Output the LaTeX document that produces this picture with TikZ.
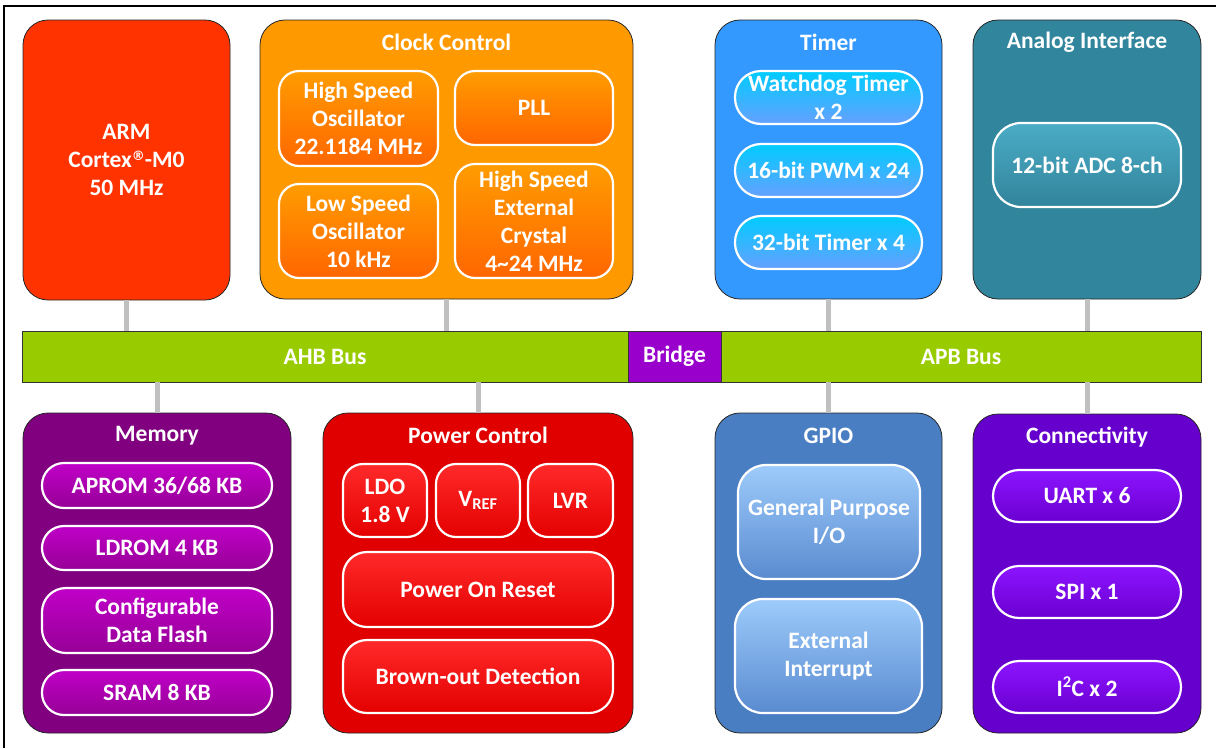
\documentclass[tikz,border=0pt]{standalone}
\usepackage{fontspec}
\setmainfont{Carlito}
\newfontfamily\regfont{DejaVu Sans}
\definecolor{armred}{HTML}{FF3300}
\definecolor{clockor}{HTML}{FF9900}
\definecolor{innorTop}{HTML}{FF9C00}
\definecolor{innorBot}{HTML}{FF6600}
\definecolor{timerbl}{HTML}{3399FF}
\definecolor{tiTop}{HTML}{00CCFF}
\definecolor{tiBot}{HTML}{66A0FF}
\definecolor{analogc}{HTML}{31859C}
\definecolor{anTop}{HTML}{4BACC6}
\definecolor{anBot}{HTML}{31849B}
\definecolor{busgreen}{HTML}{99CC00}
\definecolor{bridgec}{HTML}{9900CC}
\definecolor{memc}{HTML}{800080}
\definecolor{meTop}{HTML}{C000C8}
\definecolor{meBot}{HTML}{960096}
\definecolor{powc}{HTML}{E00000}
\definecolor{poTop}{HTML}{FF2A2A}
\definecolor{poBot}{HTML}{E40000}
\definecolor{gpioc}{HTML}{4A7EC2}
\definecolor{gpTop}{HTML}{9DCBFB}
\definecolor{gpBot}{HTML}{5A8BD0}
\definecolor{connc}{HTML}{6600CC}
\definecolor{coTop}{HTML}{8C14FF}
\definecolor{coBot}{HTML}{6A00D0}
\definecolor{conngray}{HTML}{C0C0C0}
\newcommand{\regmark}{{\regfont\bfseries\fontsize{13}{13}\selectfont\raisebox{7pt}{®}}}
\tikzset{
  txt/.style={text=white, font=\fontsize{23.5}{28}\selectfont\bfseries, align=center},
  outerbox/.style={txt, draw=black!85, line width=0.8pt, rounded corners=25pt, inner sep=0pt},
  innerbox/.style={txt, draw=white, line width=2.2pt, rounded corners=20pt, inner sep=0pt},
  pill/.style={innerbox, rounded corners=#1},
  busbox/.style={txt, draw=black!80, line width=0.9pt, inner sep=0pt},
  title/.style={txt, inner sep=0pt},
  linkline/.style={draw=conngray, line width=5pt},
}
\begin{document}
\begin{tikzpicture}[x=1pt,y=-1pt]
\useasboundingbox (0,0) rectangle (1216,748);
\fill[white] (0,0) rectangle (1216,748);
\draw[line width=2pt] (4,748) -- (4,6) -- (1216,6);

% top row outer blocks
\node[outerbox, fill=armred, minimum width=207pt, minimum height=280pt] (arm) at (126.5,160) {};
\node[txt] (armtxt) at (126.5,160) {ARM\\Cortex\regmark-M0\\50 MHz};
\node[outerbox, fill=clockor, minimum width=373pt, minimum height=279pt] (clock) at (446.5,159.5) {};
\node[title] (clockt) at (446.5,42) {Clock Control};
\node[outerbox, fill=timerbl, minimum width=227pt, minimum height=279pt] (timer) at (828.5,159.5) {};
\node[title] (timert) at (828.5,42) {Timer};
\node[outerbox, fill=analogc, minimum width=228pt, minimum height=279pt] (analog) at (1087,159.5) {};
\node[title] (analogt) at (1087,42) {Analog Interface};

% clock inner
\begin{scope}[every node/.append style={top color=innorTop, bottom color=innorBot}]
\node[innerbox, minimum width=159pt, minimum height=95pt] (hso) at (358.5,118.5) {High Speed\\Oscillator\\22.1184 MHz};
\node[innerbox, minimum width=158pt, minimum height=74pt] (pll) at (534,108) {PLL};
\node[innerbox, minimum width=159pt, minimum height=94pt] (lso) at (358.5,231) {Low Speed\\Oscillator\\10 kHz};
\node[innerbox, minimum width=158pt, minimum height=114pt] (hse) at (534,221) {High Speed\\External\\Crystal\\4\textasciitilde 24 MHz};
\end{scope}

% timer inner
\begin{scope}[every node/.append style={top color=tiTop, bottom color=tiBot}]
\node[pill=26pt, minimum width=187pt, minimum height=53pt] (wdt) at (828.5,97.5) {Watchdog Timer\\x 2};
\node[pill=26pt, minimum width=187pt, minimum height=53pt] (pwm) at (828.5,170.5) {16-bit PWM x 24};
\node[pill=26pt, minimum width=187pt, minimum height=53pt] (tmr) at (828.5,242.5) {32-bit Timer x 4};
\end{scope}

% analog inner
\node[innerbox, rounded corners=28pt, top color=anTop, bottom color=anBot, minimum width=188pt, minimum height=84pt] (adc) at (1087,165) {12-bit ADC 8-ch};

% bus
\node[busbox, fill=busgreen, minimum width=606pt, minimum height=51pt] (ahb) at (325,356.5) {AHB Bus};
\node[busbox, fill=bridgec, minimum width=93pt, minimum height=51pt] (bridge) at (674.5,356.5) {Bridge};
\node[busbox, fill=busgreen, minimum width=480pt, minimum height=51pt] (apb) at (961,356.5) {APB Bus};

% bottom row outer blocks
\node[outerbox, fill=memc, minimum width=268pt, minimum height=320pt] (mem) at (157,573) {};
\node[title] (memt) at (157,436) {Memory};
\node[outerbox, fill=powc, minimum width=310pt, minimum height=320pt] (pow) at (478,573) {};
\node[title] (powt) at (478,435) {Power Control};
\node[outerbox, fill=gpioc, minimum width=227pt, minimum height=320pt] (gpio) at (828.5,573) {};
\node[title] (gpiot) at (828.5,436) {GPIO};
\node[outerbox, fill=connc, minimum width=228pt, minimum height=319pt] (conn) at (1087,573.5) {};
\node[title] (connt) at (1087,437) {Connectivity};

% memory inner
\begin{scope}[every node/.append style={top color=meTop, bottom color=meBot}]
\node[pill=22pt, minimum width=230pt, minimum height=45pt] (aprom) at (157,485.5) {APROM 36/68 KB};
\node[pill=22pt, minimum width=230pt, minimum height=44pt] (ldrom) at (157,548) {LDROM 4 KB};
\node[innerbox, rounded corners=24pt, minimum width=230pt, minimum height=65pt] (cdf) at (157,620.5) {Configurable\\Data Flash};
\node[pill=22pt, minimum width=230pt, minimum height=45pt] (sram) at (157,692.5) {SRAM 8 KB};
\end{scope}

% power inner
\begin{scope}[every node/.append style={top color=poTop, bottom color=poBot}]
\node[innerbox, minimum width=84pt, minimum height=73pt] (ldo) at (385,500.5) {LDO\\1.8 V};
\node[innerbox, minimum width=84pt, minimum height=73pt] (vref) at (478,500.5) {V\textsubscript{REF}};
\node[innerbox, minimum width=85pt, minimum height=73pt] (lvr) at (570.5,500.5) {LVR};
\node[innerbox, rounded corners=24pt, minimum width=270pt, minimum height=75pt] (por) at (478,589.5) {Power On Reset};
\node[innerbox, rounded corners=24pt, minimum width=270pt, minimum height=73pt] (bod) at (478,676.5) {Brown-out Detection};
\end{scope}

% gpio inner
\begin{scope}[every node/.append style={top color=gpTop, bottom color=gpBot}]
\node[innerbox, rounded corners=28pt, minimum width=182pt, minimum height=114pt] (gpioio) at (829,522) {General Purpose\\I/O};
\node[innerbox, rounded corners=28pt, minimum width=187pt, minimum height=114pt] (extint) at (828.5,656) {External\\Interrupt};
\end{scope}

% connectivity inner
\begin{scope}[every node/.append style={top color=coTop, bottom color=coBot}]
\node[pill=26pt, minimum width=188pt, minimum height=52pt] (uart) at (1087,496) {UART x 6};
\node[pill=26pt, minimum width=188pt, minimum height=52pt] (spi) at (1087,592) {SPI x 1};
\node[pill=26pt, minimum width=188pt, minimum height=52pt] (i2c) at (1087,687) {I\textsuperscript{2}C x 2};
\end{scope}

% connectors
\draw[linkline] (arm.south) -- (arm.south |- ahb.north);
\draw[linkline] (clock.south) -- (clock.south |- ahb.north);
\draw[linkline] (timer.south) -- (timer.south |- apb.north);
\draw[linkline] (analog.south) -- (analog.south |- apb.north);
\draw[linkline] (mem.north) -- (mem.north |- ahb.south);
\draw[linkline] (pow.north) -- (pow.north |- ahb.south);
\draw[linkline] (gpio.north) -- (gpio.north |- apb.south);
\draw[linkline] (conn.north) -- (conn.north |- apb.south);
\end{tikzpicture}
\end{document}
